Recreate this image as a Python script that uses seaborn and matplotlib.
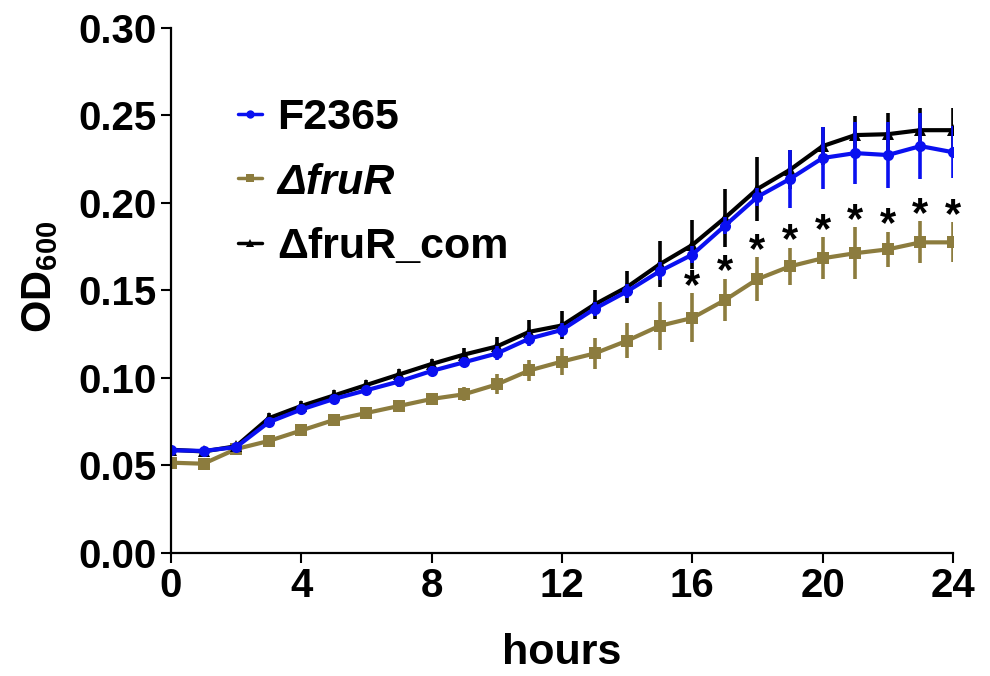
import matplotlib
matplotlib.use("Agg")
import matplotlib.pyplot as plt
import seaborn as sns
import numpy as np
import pandas as pd

hours = list(range(25))

f2365 = [0.0587, 0.0583, 0.0605, 0.0747, 0.082, 0.088, 0.093, 0.098, 0.104, 0.109,
         0.114, 0.1225, 0.1275, 0.1395, 0.1495, 0.161, 0.1705, 0.187, 0.2035, 0.2138,
         0.2257, 0.2285, 0.2274, 0.2325, 0.229]
f2365_err = [0.002, 0.002, 0.002, 0.002, 0.002, 0.002, 0.002, 0.003, 0.003, 0.003,
             0.004, 0.004, 0.004, 0.004, 0.004, 0.005, 0.005, 0.005, 0.005, 0.0166,
             0.0175, 0.0175, 0.019, 0.019, 0.015]

dfruR = [0.0516, 0.051, 0.0594, 0.064, 0.070, 0.076, 0.080, 0.084, 0.088, 0.0907,
         0.0963, 0.1043, 0.1094, 0.114, 0.1213, 0.1298, 0.1343, 0.1445, 0.1565, 0.1638,
         0.1684, 0.1713, 0.1735, 0.1775, 0.1775]
dfruR_err = [0.002, 0.002, 0.002, 0.002, 0.002, 0.002, 0.002, 0.003, 0.003, 0.004,
             0.0057, 0.006, 0.0076, 0.009, 0.010, 0.0137, 0.014, 0.012, 0.0125, 0.0105,
             0.012, 0.0147, 0.010, 0.012, 0.0114]

dfruR_com = [0.059, 0.058, 0.061, 0.077, 0.084, 0.090, 0.096, 0.102, 0.108, 0.1134,
             0.118, 0.1264, 0.130, 0.142, 0.152, 0.165, 0.176, 0.1915, 0.208, 0.219,
             0.2325, 0.2388, 0.2393, 0.2416, 0.2416]
dfruR_com_err = [0.002, 0.002, 0.002, 0.003, 0.003, 0.003, 0.003, 0.003, 0.003, 0.004,
                 0.0057, 0.0066, 0.008, 0.0085, 0.009, 0.013, 0.014, 0.0166, 0.0185, 0.011,
                 0.011, 0.011, 0.012, 0.0125, 0.0125]

labels = ["F2365", "\u0394fruR", "\u0394fruR_com"]
sig_hours = [16, 17, 18, 19, 20, 21, 22, 23, 24]

sns.set_style("ticks")
plt.rcParams['font.family'] = ['Liberation Sans', 'DejaVu Sans']
plt.rcParams['font.weight'] = 'bold'
plt.rcParams['mathtext.fontset'] = 'custom'
plt.rcParams['mathtext.bf'] = 'Liberation Sans:bold'
plt.rcParams['mathtext.rm'] = 'Liberation Sans:bold'
for k in ['text.color', 'axes.labelcolor', 'xtick.color', 'ytick.color', 'axes.edgecolor']:
    plt.rcParams[k] = 'black'

fig = plt.figure(figsize=(9.9, 6.76), dpi=100)
ax = fig.add_axes([0.1727, 0.182, 0.7899, 0.7766])

series = [
    (labels[1], dfruR, dfruR_err, "#8c7c3e", "s"),
    (labels[2], dfruR_com, dfruR_com_err, "black", "^"),
    (labels[0], f2365, f2365_err, "#0a10f0", "o"),
]

handles = {}
for name, vals, errs, color, marker in series:
    ax.errorbar(hours, vals, yerr=errs, fmt="none", ecolor=color, elinewidth=2.6, capsize=0)
    df = pd.DataFrame({"hours": hours, "od": vals})
    sns.lineplot(data=df, x="hours", y="od", ax=ax, color=color, linewidth=3,
                 marker=marker, markersize=8, markeredgewidth=0, errorbar=None)
    handles[name] = ax.lines[-1]

# significance asterisks above the ΔfruR bars
for h in sig_hours:
    top = dfruR[h] + dfruR_err[h]
    ax.text(h, top - 0.0025, "*", ha="center", va="baseline", fontsize=30,
            fontweight="bold", color="black")

ax.set_xlim(0, 24)
ax.set_ylim(0, 0.30)
ax.set_xticks([0, 4, 8, 12, 16, 20, 24])
ax.set_yticks([0.00, 0.05, 0.10, 0.15, 0.20, 0.25, 0.30])
ax.set_yticklabels(["0.00", "0.05", "0.10", "0.15", "0.20", "0.25", "0.30"])
ax.tick_params(axis="both", labelsize=29, width=1.5, length=7, direction="out",
               pad=3, colors="black")
for lab in ax.get_xticklabels() + ax.get_yticklabels():
    lab.set_fontweight("bold")
for sp in ["top", "right"]:
    ax.spines[sp].set_visible(False)
for sp in ["left", "bottom"]:
    ax.spines[sp].set_linewidth(1.6)

ax.set_xlabel("hours", fontsize=31, fontweight="bold", labelpad=20)
ax.set_ylabel("OD$_{\\mathbf{600}}$", fontsize=30, fontweight="bold")
ax.yaxis.set_label_coords(-0.142, 0.525)

leg = ax.legend([handles[l] for l in labels], labels, loc="upper left",
                bbox_to_anchor=(238 / 990, 1 - 98 / 676), bbox_transform=fig.transFigure,
                frameon=False, fontsize=31, handlelength=0.56, handletextpad=0.35,
                labelspacing=0.57, borderaxespad=0, borderpad=0)
for t in leg.get_texts():
    t.set_fontweight("bold")
leg.get_texts()[1].set_fontstyle("italic")
for lh in leg.get_lines():
    lh.set_markersize(6)
    lh.set_linewidth(2.5)

fig.savefig("out.png", dpi=100)
